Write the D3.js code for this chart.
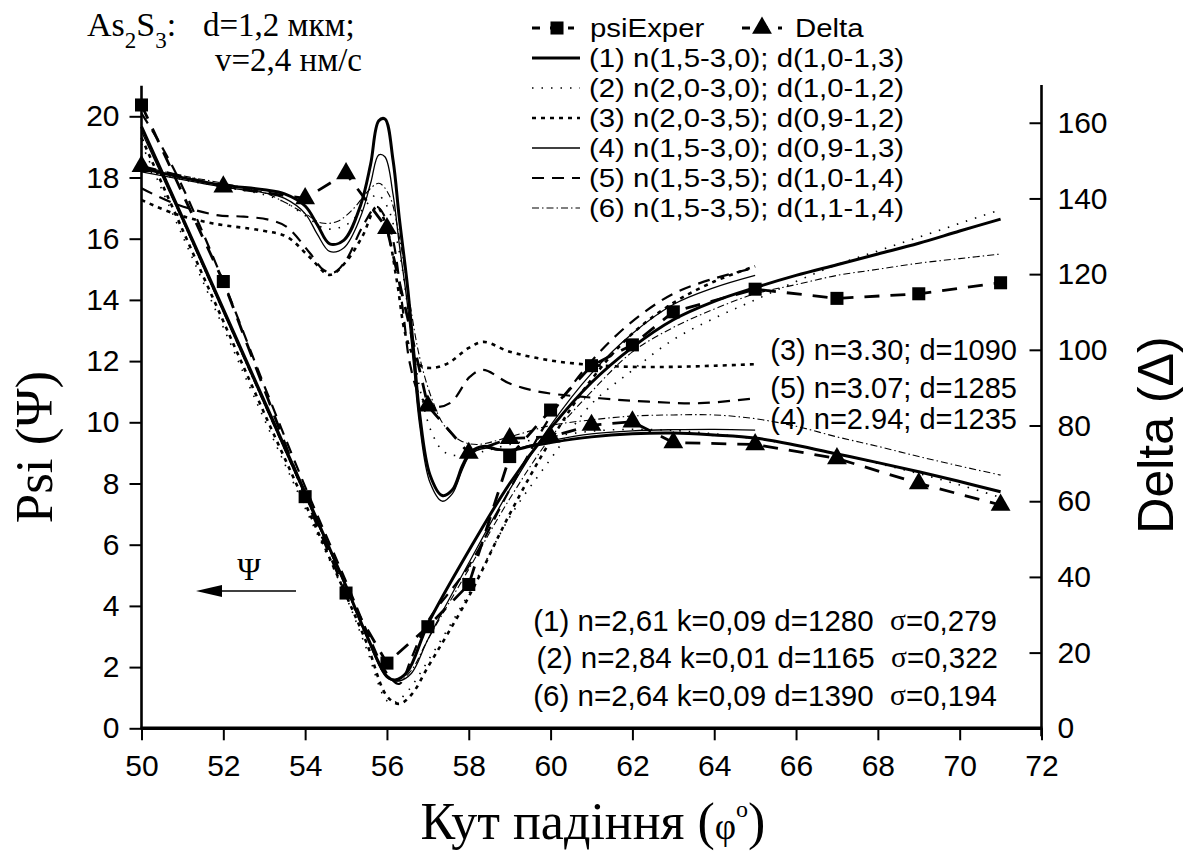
<!DOCTYPE html>
<html><head><meta charset="utf-8">
<script src="https://cdn.jsdelivr.net/npm/d3@7"></script>
<style>body{margin:0;background:#fff} svg{display:block} text{white-space:pre}</style>
</head><body><svg id="c" width="1192" height="855"></svg>
<script>
// ---------- DATA ----------
const phiTicks = [50,52,54,56,58,60,62,64,66,68,70,72];
const psiTicks = [0,2,4,6,8,10,12,14,16,18,20];
const deltaTicks = [0,20,40,60,80,100,120,140,160];

const psiExper = [[50,20.37],[52,14.6],[54,7.57],[55,4.42],[56,2.13],[57,3.32],[58,4.7],[59,8.88],[60,10.4],[61,11.85],[62,12.53],[63,13.61],[65,14.35],[67,14.05],[69,14.2],[71,14.56]];
const deltaExper = [[50,148.5],[52,143.1],[54,140.0],[55,146.6],[56,132.1],[57,85.2],[58,72.7],[59,76.6],[60,77.0],[61,80.1],[62,81.0],[63,75.5],[65,75.0],[67,71.3],[69,64.7],[71,59.0]];

// Psi model curves
const psi1 = [[50,19.66],[51,16.7],[52,13.7],[53,10.7],[54,7.7],[55,4.65],[55.5,3.05],[56,1.7],[56.2,1.58],[56.5,1.85],[57,3.4],[58,5.8],[59,8.0],[60,9.8],[61,11.3],[62,12.45],[63,13.35],[64,13.95],[65,14.4],[66,14.8],[67,15.15],[68,15.5],[69,15.85],[70,16.25],[71,16.64]];
const psi2 = [[50,19.1],[51,16.1],[52,13.1],[53,10.1],[54,7.2],[55,4.3],[55.5,2.6],[56,0.9],[56.2,0.85],[56.5,1.2],[57,2.2],[58,4.4],[59,6.9],[60,8.8],[61,10.6],[62,11.7],[63,12.7],[64,13.4],[65,14.0],[66,14.6],[67,15.15],[68,15.6],[69,16.05],[70,16.5],[71,16.95]];
const psi3 = [[50,19.3],[51,16.3],[52,13.3],[53,10.3],[54,7.35],[55,4.35],[55.5,2.8],[56,1.05],[56.3,0.8],[56.6,1.1],[57,2.0],[58,4.3],[59,7.0],[60,9.4],[61,11.4],[62,12.9],[63,13.9],[64,14.6],[65,15.1]];
const psi4 = [[50,19.5],[51,16.6],[52,13.6],[53,10.6],[54,7.6],[55,4.6],[55.5,3.0],[56,1.65],[56.3,1.55],[56.6,1.8],[57,2.9],[58,5.4],[59,7.8],[60,9.9],[61,11.6],[62,12.9],[63,13.85],[64,14.4],[65,14.8]];
const psi5 = [[50,20.1],[50.5,19.0],[51,17.7],[52,14.6],[53,11.2],[54,7.9],[55,4.8],[55.5,3.2],[56,1.8],[56.3,1.45],[56.6,2.3],[57,3.5],[58,5.3],[59,7.8],[60,10.2],[61,12.0],[62,13.3],[63,14.2],[64,14.7],[65,15.05]];
const psi6 = [[50,19.6],[51,16.6],[52,13.6],[53,10.6],[54,7.6],[55,4.6],[55.5,3.0],[56,1.7],[56.3,1.55],[56.6,1.9],[57,2.9],[58,5.2],[59,7.5],[60,9.5],[61,11.0],[62,12.3],[63,13.1],[64,13.7],[65,14.2],[66,14.5],[67,14.8],[68,15.0],[69,15.2],[70,15.35],[71,15.5]];

// Delta model curves
const delta1 = [[50,148],[51,145.5],[52,143.5],[53,142.3],[53.5,141.2],[54,138],[54.3,133],[54.6,128],[54.95,129],[55.35,138],[55.6,149],[55.8,160.5],[55.95,161],[56.15,150],[56.3,135],[56.5,117],[56.65,100],[56.8,83],[57.05,67],[57.35,61.5],[57.6,63],[57.85,69.5],[58.05,73],[58.4,74.5],[58.7,73.7],[59.1,73.6],[59.5,74.5],[60,75.5],[61,77],[62,77.8],[63,78.0],[64,77.5],[65,76.7],[66,74.8],[67,72.5],[68,70.2],[69,67.8],[70,65.2],[71,62.5]];
const delta2 = [[50,147.5],[51,145],[52,143],[53,141],[53.5,139],[54,135.5],[54.5,132],[55,133],[55.4,137],[55.75,141],[56,138],[56.3,126],[56.55,108],[56.8,90],[57.1,78],[57.4,73],[57.8,72],[58.3,73],[59,75],[60,77],[61,78.5],[62,79],[63,78.7],[64,77.8],[65,76.5],[66,74.8],[67,72.6],[68,70],[69,67.3],[70,64.3],[71,61]];
const delta3 = [[50,139.6],[50.8,136],[51.75,133.4],[52.9,131.6],[53.55,129.9],[54.1,124.6],[54.6,119.8],[55,123.3],[55.4,130],[55.75,137.8],[56,132],[56.24,118.4],[56.48,103],[56.8,96],[57.1,95.2],[57.5,96.5],[58,100.5],[58.36,102.1],[59,99.5],[60,97.2],[61,96],[62,95.5],[63,95.5],[64,95.8],[65,96.2]];
const delta4 = [[50,147],[51,145],[52,143],[53,141.5],[53.5,140],[54,136],[54.3,130.5],[54.6,126],[54.95,127],[55.35,135],[55.6,144],[55.8,151.5],[55.95,151],[56.15,141],[56.3,128],[56.5,112],[56.65,96],[56.8,80],[57.05,65],[57.35,60],[57.6,62],[57.85,68.5],[58.05,72.5],[58.4,74],[58.7,73.5],[59.1,73.6],[59.5,74.8],[60,76],[61,77.8],[62,78.6],[63,78.9],[64,79],[65,78.8]];
const delta5 = [[50,142.7],[50.77,138.8],[51.84,135.6],[52.5,135.2],[53.14,134.3],[53.55,132.5],[54.12,125.5],[54.45,121.1],[54.7,120.4],[55.0,123.7],[55.4,132.5],[55.75,137.8],[56.0,134],[56.15,129],[56.4,109.6],[56.56,96.4],[56.8,88],[57.1,85],[57.55,86],[58.03,92.9],[58.35,94.7],[59,91.1],[59.74,88.9],[61.2,87.2],[62.4,86.3],[63.65,85.9],[65,87.2]];
const delta6 = [[50,148.5],[51,146],[52,144],[53,141.5],[53.5,139],[54,136],[54.4,133.5],[54.8,134],[55.2,137.5],[55.5,141.5],[55.8,144],[56.05,141],[56.3,130],[56.55,113],[56.8,98],[57.1,87],[57.4,80],[57.8,76],[58.2,75],[59,77],[60,80],[61,81.5],[62,82.5],[63,82.8],[64,82.8],[65,81.8],[66,79.8],[67,77],[68,74.5],[69,71.8],[70,69.3],[71,66.9]];

const legendLabels = ["(1) n(1,5-3,0); d(1,0-1,3)","(2) n(2,0-3,0); d(1,0-1,2)","(3) n(2,0-3,5); d(0,9-1,2)","(4) n(1,5-3,0); d(0,9-1,3)","(5) n(1,5-3,5); d(1,0-1,4)","(6) n(1,5-3,5); d(1,1-1,4)"];
const rightNotes = ["(3) n=3.30; d=1090","(5) n=3.07; d=1285","(4) n=2.94; d=1235"];
const bottomNotes = [["(1) n=2,61 k=0,09 d=1280  ","0,279"],["(2) n=2,84 k=0,01 d=1165  ","0,322"],["(6) n=2,64 k=0,09 d=1390  ","0,194"]];

// ---------- STYLES ----------
const styles = [
  {w:3, dash:null},
  {w:1.6, dash:"1.5,8"},
  {w:2.6, dash:"4,5"},
  {w:1.3, dash:null},
  {w:2.2, dash:"12,8"},
  {w:1.1, dash:"7,3,1.5,3"}
];
const SANS = "'Liberation Sans', Arial, sans-serif";
const SERIF = "'Liberation Serif', 'Times New Roman', serif";

const svg = d3.select("#c");
const x = d3.scaleLinear().domain([50,72]).range([141.5,1041.5]);
const yP = d3.scaleLinear().domain([0,21]).range([728.3,85.7]);
const yD = d3.scaleLinear().domain([0,170]).range([728.3,84.9]);

// ---------- AXES ----------
function minor(lo,hi,step){const a=[];for(let v=lo;v<=hi+1e-9;v+=step)a.push(v);return a;}
const gB = svg.append("g").attr("transform",`translate(0,${yP(0)})`);
gB.call(d3.axisBottom(x).tickValues(minor(50,72,1)).tickSize(6).tickFormat(""));
gB.call(d3.axisBottom(x).tickValues(phiTicks).tickSize(12).tickPadding(14).tickFormat(d3.format("d")));
const gL = svg.append("g").attr("transform",`translate(${x(50)},0)`);
gL.call(d3.axisLeft(yP).tickValues(minor(0,21,1)).tickSize(6).tickFormat(""));
gL.call(d3.axisLeft(yP).tickValues(psiTicks).tickSize(12).tickPadding(10).tickFormat(d3.format("d")));
const gR = svg.append("g").attr("transform",`translate(${x(72)},0)`);
gR.call(d3.axisRight(yD).tickValues(minor(0,170,10)).tickSize(-7).tickFormat(""));
gR.call(d3.axisRight(yD).tickValues(deltaTicks).tickSize(-12).tickPadding(16).tickFormat(d3.format("d")));
svg.selectAll(".domain").attr("stroke","#000").attr("stroke-width",2.6);
gB.selectAll(".domain").attr("stroke-width",3.4);
svg.selectAll(".tick line").attr("stroke","#000").attr("stroke-width",2);
svg.selectAll(".tick text").attr("font-family",SANS).attr("font-size",30).attr("fill","#000");
gB.selectAll(".domain").attr("d",`M${x(50)-1},0H${x(72)+1}`);
gL.selectAll(".domain").attr("d",`M0,${yP(21)}V${yP(0)}`);
gR.selectAll(".domain").attr("d",`M0,${yD(170)}V${yD(0)+8}`);

// ---------- CURVES ----------
const lineP = d3.line().x(d=>x(d[0])).y(d=>yP(d[1])).curve(d3.curveCatmullRom.alpha(0.5));
const lineD = d3.line().x(d=>x(d[0])).y(d=>yD(d[1])).curve(d3.curveCatmullRom.alpha(0.5));
const psiModels = [psi1,psi2,psi3,psi4,psi5,psi6];
const deltaModels = [delta1,delta2,delta3,delta4,delta5,delta6];
const gc = svg.append("g").attr("fill","none").attr("stroke","#000");
psiModels.forEach((s,i)=>{
  gc.append("path").attr("d",lineP(s)).attr("stroke-width",styles[i].w).attr("stroke-dasharray",styles[i].dash);
});
deltaModels.forEach((s,i)=>{
  gc.append("path").attr("d",lineD(s)).attr("stroke-width",styles[i].w).attr("stroke-dasharray",styles[i].dash);
});
const lineExpP = d3.line().x(d=>x(d[0])).y(d=>yP(d[1]));
const lineExpD = d3.line().x(d=>x(d[0])).y(d=>yD(d[1]));
gc.append("path").attr("d",lineExpP(psiExper)).attr("stroke-width",2.8).attr("stroke-dasharray","15,11");
gc.append("path").attr("d",lineExpD(deltaExper)).attr("stroke-width",2.8).attr("stroke-dasharray","15,11");
const sq = d3.symbol().type(d3.symbolSquare).size(170);
const tri = d3.symbol().type(d3.symbolTriangle).size(170);
svg.append("g").selectAll("path").data(psiExper).join("path")
  .attr("d",sq).attr("transform",d=>`translate(${x(d[0])},${yP(d[1])})`).attr("fill","#000");
svg.append("g").selectAll("path").data(deltaExper).join("path")
  .attr("d",tri).attr("transform",d=>`translate(${x(d[0])},${yD(d[1])})`).attr("fill","#000");

// ---------- LEGEND ----------
const lg = svg.append("g");
const lx0 = 532, lx1 = 580, ltx = 589, row0 = 28, pitch = 30, LFS = 25;
function natW(str){const p=svg.append("text").attr("font-family",SANS).attr("font-size",LFS).text(str);const w=p.node().getComputedTextLength();p.remove();return w;}
const sx = 315 / natW(legendLabels[0]);
function stretchedText(g, tx, ty, str){
  return g.append("text").attr("font-family",SANS).attr("font-size",LFS).attr("dominant-baseline","central")
    .attr("x",tx).attr("y",ty).attr("textLength",natW(str)*sx).attr("lengthAdjust","spacingAndGlyphs").text(str);
}
lg.append("line").attr("x1",lx0).attr("x2",574).attr("y1",row0).attr("y2",row0).attr("stroke","#000").attr("stroke-width",2.8).attr("stroke-dasharray","8,10");
lg.append("path").attr("d",sq).attr("transform",`translate(557,${row0})`);
stretchedText(lg, 590, row0, "psiExper");
lg.append("line").attr("x1",742).attr("x2",782).attr("y1",row0).attr("y2",row0).attr("stroke","#000").attr("stroke-width",2.8).attr("stroke-dasharray","8,10");
lg.append("path").attr("d",tri).attr("transform",`translate(762,${row0})`);
stretchedText(lg, 795, row0, "Delta");
legendLabels.forEach((t,i)=>{
  const yy = row0 + pitch*(i+1);
  lg.append("line").attr("x1",lx0).attr("x2",lx1).attr("y1",yy).attr("y2",yy).attr("stroke","#000")
    .attr("stroke-width",styles[i].w).attr("stroke-dasharray",styles[i].dash);
  stretchedText(lg, ltx, yy, t);
});

// ---------- ANNOTATIONS ----------
const t1 = svg.append("text").attr("x",87).attr("y",36).attr("font-family",SERIF).attr("font-size",34);
t1.append("tspan").text("As");
t1.append("tspan").attr("font-size",23).attr("dy",12).text("2");
t1.append("tspan").attr("dy",-12).text("S");
t1.append("tspan").attr("font-size",23).attr("dy",12).text("3");
t1.append("tspan").attr("dy",-12).text(":");
t1.append("tspan").attr("x",203).attr("font-size",33).text("d=1,2 мкм;");
svg.append("text").attr("x",215).attr("y",71).attr("font-family",SERIF).attr("font-size",33).text("v=2,4 нм/с");

rightNotes.forEach((t,i)=>{
  svg.append("text").attr("x",1017).attr("y",[350,388,419][i]).attr("text-anchor","end").attr("dominant-baseline","central")
    .attr("font-family",SANS).attr("font-size",29).text(t);
});
bottomNotes.forEach((t,i)=>{
  const tt = svg.append("text").attr("x",[997,998,997][i]).attr("y",[620,657,695][i]).attr("text-anchor","end").attr("dominant-baseline","central")
    .attr("font-family",SANS).attr("font-size",29.5);
  tt.append("tspan").text(t[0]);
  tt.append("tspan").attr("font-family",SERIF).text("σ");
  tt.append("tspan").text("="+t[1]);
});

// Psi arrow
svg.append("line").attr("x1",215).attr("x2",296).attr("y1",591).attr("y2",591).attr("stroke","#000").attr("stroke-width",1.5);
svg.append("path").attr("d","M196,591 L222,585 L222,597 Z").attr("fill","#000");
svg.append("text").attr("x",249).attr("y",580).attr("text-anchor","middle").attr("font-family",SERIF).attr("font-size",32).text("Ψ");

// Axis titles
svg.append("text").attr("transform","translate(52,447) rotate(-90)").attr("text-anchor","middle")
  .attr("font-family",SERIF).attr("font-size",53).text("Psi (Ψ)");
svg.append("text").attr("transform","translate(1173,435) rotate(-90)").attr("text-anchor","middle")
  .attr("font-family",SANS).attr("font-size",50).text("Delta (Δ)");
const xt = svg.append("text").attr("x",593).attr("y",839).attr("text-anchor","middle").attr("font-family",SERIF).attr("font-size",52);
xt.append("tspan").text("Кут падіння (");
xt.append("tspan").attr("font-size",37).text("φ");
xt.append("tspan").attr("font-size",24).attr("dy",-22).text("o");
xt.append("tspan").attr("dy",22).text(")");
</script></body></html>
